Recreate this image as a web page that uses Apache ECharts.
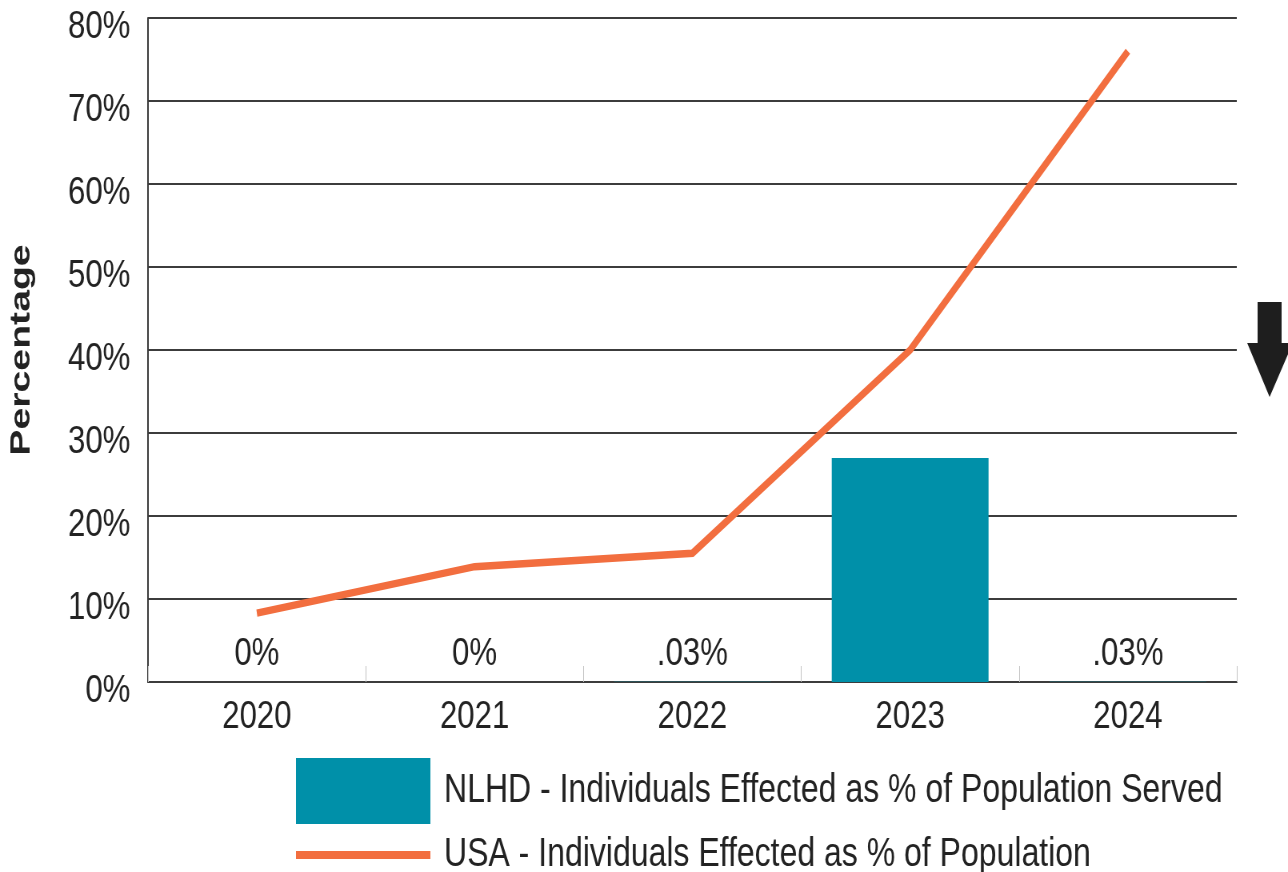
<!DOCTYPE html>
<html>
<head>
<meta charset="utf-8">
<script src="https://cdn.jsdelivr.net/npm/echarts@6/dist/echarts.min.js"></script>
<style>
  html, body { margin: 0; padding: 0; background: #fff; overflow: hidden; width: 1288px; height: 872px; }
  /* The chart is laid out on a wider canvas and condensed horizontally */
  #chart { width: 1610px; height: 872px; transform: scaleX(0.8); transform-origin: 0 0; }
</style>
</head>
<body>
<div id="chart"></div>
<script>
// Years on the category axis
const years = ['2020', '2021', '2022', '2023', '2024'];
// NLHD individuals affected, % of population served
const nlhdValues = [0, 0, 0.03, 27, 0.03];
// USA individuals affected, % of population
const usaValues = [8.3, 13.9, 15.5, 40, 76];
// Value axis tick settings (percent)
const yMin = 0;
const yMax = 80;
const yStep = 10;

const nlhdName = 'NLHD - Individuals Effected as % of Population Served';
const usaName = 'USA - Individuals Effected as % of Population';

const FONT = '"Liberation Sans", Arial, Helvetica, sans-serif';
const TEAL = '#0090a9';
const ORANGE = '#f26e3f';
const DARK = '#3c3c3c';
const TEXT = '#222222';

function pctLabel(v) {
  if (v === 0) return '0%';
  return String(v).replace(/^0(?=\.)/, '') + '%';
}

const chart = echarts.init(document.getElementById('chart'), null, { renderer: 'canvas' });

chart.setOption({
  backgroundColor: '#ffffff',
  animation: false,
  grid: { left: 185, right: 64, top: 18, bottom: 190, containLabel: false },
  legend: [
    {
      data: [{ name: nlhdName, icon: 'rect' }],
      left: 365, top: 753,
      itemWidth: 168, itemHeight: 66,
      selectedMode: false,
      textStyle: { fontFamily: FONT, fontSize: 40, color: TEXT, padding: [0, 0, 0, 12] }
    },
    {
      data: [{ name: usaName, icon: 'rect' }],
      left: 365, top: 830,
      itemWidth: 168, itemHeight: 8,
      selectedMode: false,
      textStyle: { fontFamily: FONT, fontSize: 40, color: TEXT, padding: [0, 0, 0, 12] }
    }
  ],
  xAxis: {
    type: 'category',
    data: years,
    boundaryGap: true,
    axisLine: { show: true, lineStyle: { color: DARK, width: 2 } },
    axisTick: { show: true, inside: true, length: 16, lineStyle: { color: '#c4c4c4', width: 1 } },
    axisLabel: { fontFamily: FONT, fontSize: 39, color: TEXT, margin: 16 },
    splitLine: { show: false }
  },
  yAxis: {
    type: 'value',
    min: yMin, max: yMax, interval: yStep,
    axisLine: { show: true, lineStyle: { color: DARK, width: 2 } },
    axisTick: { show: false },
    axisLabel: {
      fontFamily: FONT, fontSize: 39, color: TEXT, margin: 22,
      verticalAlign: 'top', lineHeight: 18,
      formatter: v => v + '%'
    },
    splitLine: { show: true, lineStyle: { color: DARK, width: 2 } }
  },
  series: [
    {
      name: nlhdName,
      type: 'bar',
      data: nlhdValues.map(v => ({
        value: v,
        label: { show: v < 1 }
      })),
      barWidth: '72%',
      itemStyle: { color: TEAL },
      label: {
        show: true, position: 'top', distance: 8,
        fontFamily: FONT, fontSize: 39, color: TEXT,
        formatter: p => pctLabel(p.value)
      },
      z: 2
    },
    {
      name: usaName,
      type: 'line',
      data: usaValues,
      showSymbol: false,
      symbol: 'none',
      lineStyle: { color: ORANGE, width: 7.5, cap: 'butt', join: 'miter' },
      itemStyle: { color: ORANGE },
      z: 3
    }
  ],
  graphic: [
    {
      // rotated y-axis title
      type: 'text',
      x: 27, y: 350,
      rotation: Math.PI / 2,
      scaleX: 1.12,
      style: {
        text: 'Percentage',
        font: 'bold 35px "Liberation Sans", Arial, sans-serif',
        fill: TEXT,
        align: 'center',
        verticalAlign: 'middle'
      }
    },
    {
      // downward arrow at the right edge
      type: 'polygon',
      shape: {
        points: [
          [1572, 302], [1602, 302], [1602, 343], [1616, 343],
          [1587, 397], [1559, 343], [1572, 343]
        ]
      },
      style: { fill: '#1e1e1e' }
    }
  ]
});
</script>
</body>
</html>
